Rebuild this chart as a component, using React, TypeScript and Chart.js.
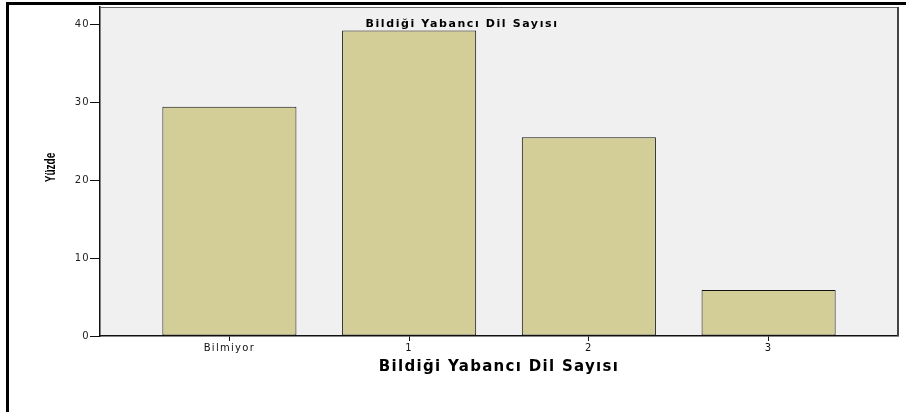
import React, { useEffect, useRef } from 'react';
import { Chart, registerables } from 'chart.js';

Chart.register(...registerables);

const categories = ['Bilmiyor', '1', '2', '3'];
const percentages = [29.4, 39.2, 25.5, 5.9];
const yTicks = [0, 10, 20, 30, 40];
const yMax = 42.2;
const chartTitle = 'Bildiği Yabancı Dil Sayısı';
const xAxisTitle = 'Bildiği Yabancı Dil Sayısı';
const yAxisTitle = 'Yüzde';

const SPACING = '1.3px';
const FAMILY = '"DejaVu Sans", Verdana, sans-serif';

export default function App() {
  const ref = useRef<HTMLCanvasElement>(null);

  useEffect(() => {
    const canvas = ref.current;
    if (!canvas) return;

    const framePlugin = {
      id: 'spssFrame',
      beforeUpdate(chart: any) {
        chart.ctx.letterSpacing = SPACING;
      },
      beforeDraw(chart: any) {
        const { ctx, chartArea: a } = chart;
        ctx.letterSpacing = SPACING;
        ctx.save();
        ctx.fillStyle = '#F0F0F0';
        ctx.fillRect(a.left, a.top, a.right - a.left, a.bottom - a.top);
        ctx.restore();
      },
      afterDraw(chart: any) {
        const { ctx, chartArea: a } = chart;
        ctx.save();
        ctx.strokeStyle = '#666';
        ctx.lineWidth = 1;
        ctx.beginPath();
        ctx.moveTo(a.left, a.top + 0.5);
        ctx.lineTo(a.right - 0.5, a.top + 0.5);
        ctx.stroke();
        ctx.strokeStyle = '#444';
        ctx.lineWidth = 2;
        ctx.beginPath();
        ctx.moveTo(a.right, a.top);
        ctx.lineTo(a.right, a.bottom);
        ctx.stroke();

        ctx.letterSpacing = '1.6px';
        ctx.fillStyle = '#000';
        ctx.font = 'bold 11px ' + FAMILY;
        ctx.textAlign = 'center';
        ctx.textBaseline = 'middle';
        ctx.fillText(chartTitle, chart.width / 2 + 9, a.top + 17);

        ctx.letterSpacing = '0px';
        ctx.translate(51, (a.top + a.bottom) / 2 - 4);
        ctx.rotate(-Math.PI / 2);
        ctx.scale(0.72, 1);
        ctx.font = 'bold 14px "Liberation Sans", Arial, sans-serif';
        ctx.fillText(yAxisTitle, 0, 0);
        ctx.restore();
      },
    };

    const chart = new Chart(canvas, {
      type: 'bar',
      data: {
        datasets: [
          {
            data: categories.map((_, i) => ({ x: i, y: percentages[i] })),
            backgroundColor: '#D3CE98',
            borderColor: '#111',
            borderWidth: 1,
            borderSkipped: false,
            barPercentage: 0.746,
            categoryPercentage: 1,
          },
        ],
      },
      options: {
        animation: false,
        responsive: false,
        layout: { padding: { left: 10, right: 8, top: 7, bottom: 32 } },
        plugins: {
          legend: { display: false },
          tooltip: { enabled: false },
          title: { display: false },
        },
        scales: {
          x: {
            type: 'linear',
            min: -0.72,
            max: 3.72,
            offset: false,
            afterBuildTicks: (s: any) => {
              s.ticks = categories.map((_, i) => ({ value: i }));
            },
            afterFit: (s: any) => {
              s.height = 44;
            },
            ticks: {
              callback: (v: any) => categories[v] ?? '',
              color: '#111',
              font: { family: FAMILY, size: 10 },
              padding: 1,
              maxRotation: 0,
              autoSkip: false,
            },
            grid: { offset: false, drawOnChartArea: false, drawTicks: true, tickLength: 5, color: '#111' },
            border: { color: '#111', width: 1.5 },
            title: {
              display: true,
              text: xAxisTitle,
              color: '#000',
              font: { family: FAMILY, size: 15, weight: 'bold' },
              padding: { top: 4, bottom: 4 },
            },
          },
          y: {
            min: 0,
            max: yMax,
            afterBuildTicks: (s: any) => {
              s.ticks = yTicks.map((v) => ({ value: v }));
            },
            afterFit: (s: any) => {
              s.width = 90;
            },
            ticks: {
              color: '#222',
              font: { family: FAMILY, size: 10 },
              padding: 0,
            },
            grid: { drawOnChartArea: false, drawTicks: true, tickLength: 10, color: '#111' },
            border: { color: '#111', width: 1.5 },
          },
        },
      },
      plugins: [framePlugin],
    } as any);

    return () => chart.destroy();
  }, []);

  return (
    <div style={{ position: 'fixed', left: 0, top: 0, width: 906, height: 412, background: '#fff', overflow: 'hidden' }}>
      <canvas ref={ref} width={906} height={412} style={{ display: 'block', width: 906, height: 412 }} />
      <div
        style={{
          position: 'absolute',
          left: 6,
          top: 2,
          width: 910,
          height: 420,
          borderTop: '3px solid #000',
          borderLeft: '3px solid #000',
          boxSizing: 'border-box',
          pointerEvents: 'none',
        }}
      />
    </div>
  );
}
